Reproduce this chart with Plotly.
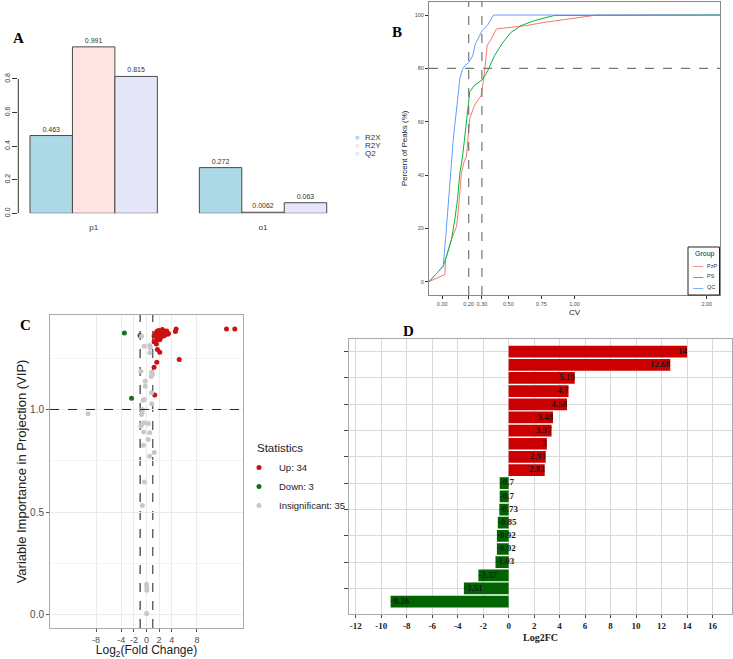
import plotly.graph_objects as go

W, H = 733, 659

def xd(a, b):
    return [a / W, b / W]

def yd(top, bottom):
    return [1 - bottom / H, 1 - top / H]

def px(x):
    return x / W

def py(y):
    return 1 - y / H

# ---------------- Panel A data ----------------
a_components = ["p1", "o1"]
a_r2x = [0.463, 0.272]
a_r2y = [0.991, 0.0062]
a_q2 = [0.815, 0.063]
a_r2x_lbl = ["0.463", "0.272"]
a_r2y_lbl = ["0.991", "0.0062"]
a_q2_lbl = ["0.815", "0.063"]
a_series = ["R2X", "R2Y", "Q2"]
a_colors = ["#ADD8E6", "#FFE4E1", "#E6E6FA"]

# ---------------- Panel B data (cumulative CV curves) ----------------
b_cv_ticks = [0, 0.2, 0.3, 0.5, 0.75, 1.0, 2.0]
b_cv_ticktext = ["0.00", "0.20", "0.30", "0.50", "0.75", "1.00", "2.00"]
b_cv_thresholds = [0.2, 0.3]
b_pct_threshold = 80
b_groups = ["PzP", "PS", "QC"]
b_colors = ["#F8766D", "#00BA38", "#619CFF"]
pzp_cv = [-0.1, 0.02, 0.025, 0.07, 0.108, 0.12, 0.145, 0.165, 0.183, 0.19, 0.208, 0.245,
          0.295, 0.32, 0.34, 0.37, 0.41, 0.63, 0.78, 1.17, 2.1]
pzp_pct = [0, 2.7, 8.3, 15.8, 20.7, 25.7, 40.7, 45, 46.9, 51.5, 61.2, 66.2,
           69.9, 78.6, 88.6, 91, 94.8, 96, 97.3, 100, 100]
ps_cv = [-0.1, 0.0075, 0.033, 0.07, 0.095, 0.115, 0.133, 0.15, 0.165, 0.183, 0.208, 0.245,
         0.3, 0.333, 0.358, 0.395, 0.458, 0.52, 0.595, 0.695, 0.845, 2.1]
ps_pct = [0, 5.8, 9.6, 15.8, 23.2, 30.7, 40.7, 45.6, 51.9, 61.2, 71.2, 73.7,
          75.6, 78, 81, 84.7, 89.7, 93.5, 96, 97.9, 99.8, 100]
qc_cv = [-0.1, 0.0075, 0.025, 0.04, 0.058, 0.07, 0.083, 0.095, 0.108, 0.12, 0.133, 0.153,
         0.173, 0.2, 0.23, 0.25, 0.27, 0.3, 0.345, 0.388, 2.1]
qc_pct = [0, 5.8, 15.8, 25.7, 36.9, 46.9, 53, 58.7, 66.2, 69.9, 76.1, 79.8,
          81, 82.2, 84.7, 89.1, 91, 94, 96.4, 100, 100]

# ---------------- Panel C data (volcano: log2FC vs VIP) ----------------
up_fc = [14, 12.68, 4.58, 4.7, 5.19, 1.57, 1.73, 2.1, 1.63, 1.2, 1.31, 1.2,
         1.46, 1.73, 1.99, 2.25, 2.52, 2.77, 2.91, 3.0, 2.68, 2.25, 1.99, 1.73,
         1.46, 3.37, 3.48, 3.2, 1.2, 2.83, 2.4, 1.85, 1.6, 2.1]
up_vip = [1.392, 1.392, 1.38, 1.392, 1.243, 1.319, 1.292, 1.279, 1.23, 1.206, 1.07, 1.33,
          1.374, 1.382, 1.385, 1.374, 1.39, 1.382, 1.366, 1.374, 1.358, 1.35, 1.358, 1.341,
          1.333, 1.366, 1.37, 1.382, 1.358, 1.36, 1.362, 1.37, 1.355, 1.34]
down_fc = [-3.51, -2.37, -1.03]
down_vip = [1.372, 1.055, 1.36]
ns_fc = [-0.79, -0.37, 0.52, 0.52, -0.89, 0.79, 0.94, -0.21, -0.21, 0.79, -0.37, 0.84,
         -0.63, -0.69, -9.26, -0.79, -0.37, 0.3, -0.89, 0.52, 0.26, -0.5, 1.23, 0.5,
         -0.32, -0.66, 0.0, 0.05, 0.05, 0.02, -0.55, 0.6, -0.8, 0.75, -0.45]
ns_vip = [1.357, 1.308, 1.311, 1.276, 1.186, 1.181, 1.17, 1.138, 1.113, 1.081, 1.049, 1.028,
          1.0, 0.984, 0.979, 0.927, 0.935, 0.932, 0.919, 0.887, 0.854, 0.826, 0.791, 0.772,
          0.647, 0.533, 0.149, 0.133, 0.12, 0.006, 1.045, 1.3, 0.976, 1.16, 0.89]
c_fc_cut = [-1, 1]
c_vip_cut = 1.0
c_xticks = [-8, -4, -2, 0, 2, 4, 8]
c_xticktext = ["-8", "-4", "-2", "0", "2", "4", "8"]

# ---------------- Panel D data (Log2FC bars) ----------------
d_metabolites = [f"Metabolite {i}" for i in range(1, 21)]
d_log2fc = [14, 12.68, 5.19, 4.7, 4.58, 3.48, 3.37, 3, 2.91, 2.83,
            -0.7, -0.7, -0.73, -0.85, -0.92, -0.92, -1.03, -2.37, -3.51, -9.26]
d_xticks = list(range(-12, 17, 2))

fig = go.Figure()

# ---- Panel A ----
bar_w = 0.2507
a_offsets = [-0.376, -0.1253, 0.1253]
for vals, lbls, name, col, off in zip([a_r2x, a_r2y, a_q2],
                                      [a_r2x_lbl, a_r2y_lbl, a_q2_lbl],
                                      a_series, a_colors, a_offsets):
    fig.add_trace(go.Bar(
        x=a_components, y=vals, name=name, width=bar_w, offset=off,
        marker=dict(color=col, line=dict(color="#4a4a4a", width=1)),
        text=lbls, textposition="outside", cliponaxis=False,
        textfont=dict(size=7, color="#333", family="Liberation Sans"),
        xaxis="x", yaxis="y", showlegend=False,
    ))

# ---- Panel B ----
for xs, ys, name, col in zip([pzp_cv, ps_cv, qc_cv], [pzp_pct, ps_pct, qc_pct],
                             b_groups, b_colors):
    fig.add_trace(go.Scatter(
        x=xs, y=ys, mode="lines", name=name, line=dict(color=col, width=1),
        xaxis="x2", yaxis="y2", showlegend=False,
    ))

# ---- Panel C ----
fig.add_trace(go.Scatter(
    x=up_fc, y=up_vip, mode="markers", name=f"Up: {len(up_fc)}",
    marker=dict(color="#CC1111", size=5), xaxis="x3", yaxis="y3", legend="legend"))
fig.add_trace(go.Scatter(
    x=down_fc, y=down_vip, mode="markers", name=f"Down: {len(down_fc)}",
    marker=dict(color="#17701F", size=5), xaxis="x3", yaxis="y3", legend="legend"))
fig.add_trace(go.Scatter(
    x=ns_fc, y=ns_vip, mode="markers", name=f"Insignificant: {len(ns_fc)}",
    marker=dict(color="#C8C8C8", size=5), xaxis="x3", yaxis="y3", legend="legend"))

# ---- Panel D ----
d_colors = ["#CC0000" if v > 0 else "#006400" for v in d_log2fc]
fig.add_trace(go.Bar(
    x=d_log2fc, y=d_metabolites, orientation="h", width=0.89,
    marker=dict(color=d_colors, line=dict(width=0)),
    showlegend=False, xaxis="x4", yaxis="y4",
))
fig.add_trace(go.Scatter(
    x=d_log2fc, y=d_metabolites, mode="text",
    text=[f"{v:g}" for v in d_log2fc],
    textposition=["middle left" if v > 0 else "middle right" for v in d_log2fc],
    textfont=dict(family="Liberation Serif", size=9, color="#1a1a1a", weight="bold"),
    showlegend=False, xaxis="x4", yaxis="y4", cliponaxis=False,
))

shapes = []
# Panel A y axis line (0 to 0.8)
shapes.append(dict(type="line", xref="x domain", yref="y", x0=0, x1=0, y0=0, y1=0.8,
                   line=dict(color="#333", width=1)))
# Panel B thresholds
for v in b_cv_thresholds:
    shapes.append(dict(type="line", xref="x2", yref="y2 domain", x0=v, x1=v, y0=0, y1=1,
                       line=dict(color="#777", width=1.2, dash="dash")))
shapes.append(dict(type="line", xref="x2 domain", yref="y2", x0=0, x1=1,
                   y0=b_pct_threshold, y1=b_pct_threshold,
                   line=dict(color="#777", width=1.2, dash="dash")))
# Panel B legend box
shapes.append(dict(type="rect", xref="paper", yref="paper", x0=px(688), x1=px(719.5),
                   y0=py(295), y1=py(247), line=dict(color="#222", width=1),
                   fillcolor="white", layer="above"))
# Panel C thresholds
shapes.append(dict(type="line", xref="x3", yref="y3 domain", x0=c_fc_cut[0], x1=c_fc_cut[0],
                   y0=0, y1=1, line=dict(color="#666", width=1.6, dash="dash"), layer="below"))
shapes.append(dict(type="line", xref="x3", yref="y3 domain", x0=c_fc_cut[1], x1=c_fc_cut[1],
                   y0=0, y1=1, line=dict(color="#222", width=1, dash="dash"), layer="below"))
shapes.append(dict(type="line", xref="x3 domain", yref="y3", x0=0, x1=1,
                   y0=c_vip_cut, y1=c_vip_cut, line=dict(color="#222", width=1, dash="dash")))

letter_font = dict(family="Liberation Serif", size=15, color="black", weight="bold")
annotations = []
for t, xx, yy in [("A", 18, 38), ("B", 397, 32), ("C", 25, 325), ("D", 408, 331)]:
    annotations.append(dict(text=t, x=px(xx), y=py(yy), xref="paper", yref="paper",
                            xanchor="center", yanchor="middle", showarrow=False,
                            font=letter_font))

# Panel A legend (base-R style, small squares)
for i, (name, col) in enumerate(zip(a_series, a_colors)):
    yy = 137 + i * 8.3
    annotations.append(dict(text="■", x=px(357), y=py(yy), xref="paper", yref="paper",
                            xanchor="center", yanchor="middle", showarrow=False,
                            font=dict(size=7, color=col)))
    annotations.append(dict(text=name, x=px(363), y=py(yy), xref="paper", yref="paper",
                            xanchor="left", yanchor="middle", showarrow=False,
                            font=dict(size=8, color="#333")))

# Panel B legend (ggplot style, compact)
annotations.append(dict(text="Group", x=px(693), y=py(254), xref="paper", yref="paper",
                        xanchor="left", yanchor="middle", showarrow=False,
                        font=dict(size=7, color="#222")))
for i, (name, col) in enumerate(zip(b_groups, b_colors)):
    yy = 265.5 + i * 10.8
    annotations.append(dict(text="—", x=px(697.5), y=py(yy), xref="paper", yref="paper",
                            xanchor="center", yanchor="middle", showarrow=False,
                            font=dict(size=10, color=col)))
    annotations.append(dict(text=name, x=px(705), y=py(yy), xref="paper", yref="paper",
                            xanchor="left", yanchor="middle", showarrow=False,
                            font=dict(size=5.5, color="#333")))

# Panel C legend title
annotations.append(dict(text="Statistics", x=px(255), y=py(448), xref="paper", yref="paper",
                        xanchor="left", yanchor="middle", showarrow=False,
                        font=dict(size=11.5, color="#222")))

tick_gray = "#4d4d4d"
fig.update_layout(
    width=W, height=H, margin=dict(l=0, r=0, t=0, b=0, autoexpand=False),
    paper_bgcolor="white", plot_bgcolor="white",
    barmode="overlay",
    font=dict(family="Liberation Sans", color="#222"),
    shapes=shapes, annotations=annotations,
    # Panel A
    xaxis=dict(domain=xd(18.3, 345), type="category", categoryorder="array",
               categoryarray=a_components, range=[-0.445, 1.484], automargin=False,
               showline=False, showgrid=False, zeroline=False, ticks="",
               tickfont=dict(size=8, color="#333"), ticklabelstandoff=8),
    yaxis=dict(domain=yd(20, 213.3), range=[0, 1.151], automargin=False,
               tickvals=[0, 0.2, 0.4, 0.6, 0.8], ticktext=["0.0", "0.2", "0.4", "0.6", "0.8"],
               tickangle=-90, ticks="outside", ticklen=5, tickcolor="#333",
               showgrid=False, showline=False, zeroline=False,
               tickfont=dict(size=7, color="#333")),
    # Panel B
    xaxis2=dict(domain=xd(429, 720), range=[-0.1, 2.1], anchor="y2", automargin=False,
                tickvals=b_cv_ticks, ticktext=b_cv_ticktext, tickangle=0,
                tickfont=dict(size=5.5, color=tick_gray), ticks="outside", ticklen=3,
                tickcolor="#333", showline=True, mirror=True, linecolor="#888", linewidth=1,
                showgrid=False, zeroline=False,
                title=dict(text="CV", font=dict(size=8, color="#222"), standoff=3)),
    yaxis2=dict(domain=yd(1.7, 295), range=[-5, 105], anchor="x2", automargin=False,
                tickvals=[0, 20, 40, 60, 80, 100], tickangle=0,
                tickfont=dict(size=5.5, color=tick_gray), ticks="outside", ticklen=3,
                tickcolor="#333", showline=True, mirror=True, linecolor="#888", linewidth=1,
                showgrid=False, zeroline=False,
                title=dict(text="Percent of Peaks (%)", font=dict(size=8, color="#222"),
                           standoff=5)),
    # Panel C
    xaxis3=dict(domain=xd(50, 243), range=[-15.3, 15.3], anchor="y3", automargin=False,
                tickvals=c_xticks, ticktext=c_xticktext, tickangle=0,
                tickfont=dict(size=9, color=tick_gray),
                ticks="outside", ticklen=3, tickcolor="#555",
                showline=True, mirror=True, linecolor="#aaa", linewidth=1,
                showgrid=True, gridcolor="#ebebeb", gridwidth=1, zeroline=False,
                title=dict(text="Log<sub>2</sub>(Fold Change)", font=dict(size=12, color="#222"),
                           standoff=2)),
    yaxis3=dict(domain=yd(315, 628), range=[-0.064, 1.46], anchor="x3", automargin=False,
                tickvals=[0, 0.5, 1.0], ticktext=["0.0", "0.5", "1.0"],
                tickfont=dict(size=10, color=tick_gray),
                ticks="outside", ticklen=3, tickcolor="#555",
                showline=True, mirror=True, linecolor="#aaa", linewidth=1,
                showgrid=True, gridcolor="#ebebeb", gridwidth=1, zeroline=False,
                minor=dict(tickvals=[0.25, 0.75, 1.25], showgrid=True, gridcolor="#f4f4f4",
                           ticks=""),
                title=dict(text="Variable Importance in Projection (VIP)",
                           font=dict(size=13, color="#222"), standoff=0)),
    # Panel D
    xaxis4=dict(domain=xd(349.3, 731.7), range=[-12.5, 17.5], anchor="y4", automargin=False,
                tickvals=d_xticks, ticktext=[str(v) for v in d_xticks], tickangle=0,
                tickfont=dict(family="Liberation Serif", size=9, color="#222", weight="bold"),
                ticks="outside", ticklen=3, tickcolor="#444",
                showline=True, mirror=True, linecolor="#aaa", linewidth=1,
                showgrid=True, gridcolor="#d9d9d9", zeroline=False,
                title=dict(text="Log2FC", standoff=4,
                           font=dict(family="Liberation Serif", size=10, color="#222",
                                     weight="bold"))),
    yaxis4=dict(domain=yd(339.3, 614), type="category", categoryorder="array",
                categoryarray=d_metabolites, range=[19.94, -0.94], anchor="x4",
                automargin=False,
                showticklabels=False, ticks="outside", ticklen=4, tickcolor="#444",
                showline=True, mirror=True, linecolor="#aaa", linewidth=1,
                showgrid=True, gridcolor="#d9d9d9", zeroline=False),
    legend=dict(x=px(239), y=py(453), xanchor="left", yanchor="top",
                font=dict(size=9.5, color="#222"), bgcolor="rgba(0,0,0,0)",
                itemwidth=30, tracegroupgap=0),
)

fig.write_html("out.html", config={"displayModeBar": False},
               post_script="document.body.style.margin='0px';document.body.style.padding='0px';")
